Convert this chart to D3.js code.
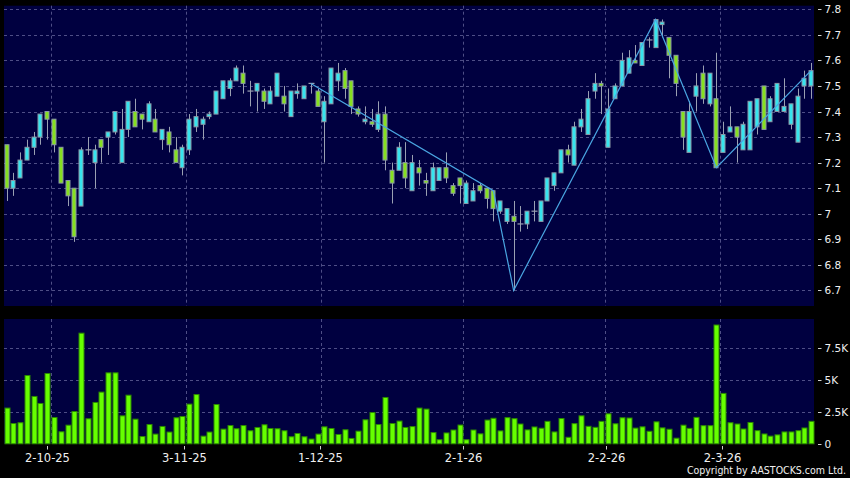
<!DOCTYPE html>
<html>
<head>
<meta charset="utf-8">
<script src="https://cdn.jsdelivr.net/npm/d3@7"></script>
<style>
	html, body { margin: 0; padding: 0; background: #000; }
	svg { display: block; }
	.lbl { fill: #f0f0f0; font-family: 'DejaVu Sans', sans-serif; }
</style>
</head>
<body>
<script>
// daily bars, oldest first
var opens = [
	7.27, 7.10, 7.14, 7.21, 7.26, 7.30, 7.40, 7.37, 7.26, 7.13,
	7.10, 7.03, 7.25, 7.20, 7.29, 7.30, 7.32, 7.20, 7.33, 7.40,
	7.39, 7.36, 7.37, 7.29, 7.32, 7.25, 7.18, 7.25, 7.34, 7.35,
	7.38, 7.39, 7.45, 7.49, 7.52, 7.55, 7.48, 7.48, 7.48, 7.43,
	7.46, 7.46, 7.38, 7.47, 7.45, 7.51, 7.48, 7.36, 7.43, 7.52,
	7.56, 7.52, 7.41, 7.36, 7.36, 7.33, 7.39, 7.17, 7.17, 7.20,
	7.09, 7.18, 7.13, 7.09, 7.13, 7.18, 7.11, 7.14, 7.04, 7.05,
	7.11, 7.10, 7.09, 7.01, 6.97, 6.99, 6.96, 6.96, 7.01, 6.97,
	7.05, 7.11, 7.16, 7.25, 7.19, 7.34, 7.31, 7.48, 7.51, 7.26,
	7.45, 7.50, 7.55, 7.60, 7.58, 7.68, 7.65, 7.74, 7.69, 7.62,
	7.40, 7.24, 7.46, 7.55, 7.43, 7.45, 7.24, 7.32, 7.34, 7.25,
	7.25, 7.34, 7.50, 7.36, 7.40, 7.40, 7.35, 7.28, 7.50, 7.50
];
var closes = [
	7.10, 7.13, 7.21, 7.26, 7.30, 7.39, 7.37, 7.27, 7.12, 7.07,
	6.91, 7.25, 7.25, 7.25, 7.26, 7.32, 7.40, 7.33, 7.44, 7.34,
	7.37, 7.43, 7.32, 7.33, 7.27, 7.20, 7.26, 7.37, 7.38, 7.37,
	7.39, 7.48, 7.52, 7.52, 7.57, 7.51, 7.48, 7.51, 7.44, 7.48,
	7.55, 7.43, 7.48, 7.48, 7.50, 7.51, 7.42, 7.44, 7.57, 7.55,
	7.49, 7.42, 7.39, 7.37, 7.35, 7.39, 7.21, 7.12, 7.26, 7.14,
	7.20, 7.16, 7.12, 7.18, 7.18, 7.14, 7.08, 7.11, 7.12, 7.09,
	7.09, 7.06, 7.02, 7.05, 7.02, 6.97, 6.96, 7.01, 7.01, 7.05,
	7.14, 7.16, 7.25, 7.23, 7.34, 7.37, 7.45, 7.51, 7.50, 7.41,
	7.50, 7.60, 7.61, 7.59, 7.67, 7.68, 7.76, 7.75, 7.62, 7.51,
	7.30, 7.40, 7.50, 7.45, 7.55, 7.18, 7.31, 7.34, 7.30, 7.35,
	7.44, 7.45, 7.33, 7.45, 7.51, 7.42, 7.43, 7.46, 7.53, 7.56
];
var highs = [
	7.27, 7.16, 7.24, 7.29, 7.32, 7.39, 7.40, 7.37, 7.26, 7.13,
	7.10, 7.26, 7.30, 7.27, 7.29, 7.32, 7.40, 7.41, 7.44, 7.45,
	7.39, 7.44, 7.41, 7.33, 7.34, 7.30, 7.27, 7.39, 7.41, 7.38,
	7.40, 7.48, 7.52, 7.53, 7.58, 7.58, 7.52, 7.51, 7.49, 7.50,
	7.55, 7.50, 7.48, 7.51, 7.50, 7.51, 7.49, 7.46, 7.57, 7.59,
	7.57, 7.52, 7.42, 7.42, 7.41, 7.44, 7.42, 7.20, 7.28, 7.28,
	7.23, 7.21, 7.16, 7.20, 7.18, 7.24, 7.12, 7.14, 7.13, 7.12,
	7.12, 7.10, 7.09, 7.05, 7.02, 7.05, 7.03, 7.01, 7.05, 7.05,
	7.14, 7.16, 7.25, 7.27, 7.36, 7.41, 7.48, 7.55, 7.52, 7.49,
	7.51, 7.63, 7.64, 7.66, 7.67, 7.69, 7.76, 7.76, 7.69, 7.62,
	7.40, 7.44, 7.55, 7.58, 7.55, 7.63, 7.36, 7.42, 7.34, 7.36,
	7.44, 7.45, 7.50, 7.46, 7.51, 7.53, 7.43, 7.49, 7.56, 7.59
];
var lows = [
	7.05, 7.07, 7.14, 7.21, 7.23, 7.27, 7.29, 7.24, 7.12, 7.03,
	6.89, 7.03, 7.23, 7.10, 7.20, 7.23, 7.31, 7.20, 7.30, 7.34,
	7.33, 7.36, 7.32, 7.25, 7.24, 7.20, 7.15, 7.23, 7.32, 7.29,
	7.37, 7.39, 7.45, 7.46, 7.52, 7.47, 7.42, 7.40, 7.41, 7.43,
	7.46, 7.40, 7.38, 7.45, 7.45, 7.47, 7.42, 7.20, 7.43, 7.48,
	7.45, 7.39, 7.38, 7.35, 7.34, 7.32, 7.17, 7.04, 7.17, 7.10,
	7.09, 7.11, 7.07, 7.09, 7.13, 7.12, 7.07, 7.04, 7.04, 7.05,
	7.08, 7.02, 6.97, 7.00, 6.96, 6.70, 6.93, 6.94, 6.97, 6.97,
	7.05, 7.09, 7.16, 7.20, 7.19, 7.32, 7.31, 7.45, 7.39, 7.26,
	7.45, 7.50, 7.55, 7.59, 7.58, 7.65, 7.65, 7.69, 7.53, 7.46,
	7.25, 7.24, 7.40, 7.43, 7.42, 7.18, 7.24, 7.32, 7.20, 7.25,
	7.25, 7.31, 7.33, 7.36, 7.40, 7.40, 7.33, 7.28, 7.45, 7.45
];
// volume, thousands of shares
var volumes = [
	2.80, 1.59, 1.65, 5.35, 3.71, 3.16, 5.51, 2.06, 0.94, 1.46,
	2.53, 8.67, 1.96, 3.24, 4.05, 5.56, 5.56, 2.19, 3.81, 1.93,
	0.57, 1.51, 0.76, 1.36, 0.92, 2.04, 2.14, 3.11, 3.86, 0.60,
	0.92, 3.08, 1.15, 1.43, 1.18, 1.43, 1.02, 1.28, 1.49, 1.20,
	1.18, 1.02, 0.55, 0.81, 0.55, 0.37, 0.76, 1.33, 1.20, 0.73,
	1.10, 0.42, 0.99, 1.88, 2.45, 1.51, 3.63, 1.59, 1.78, 1.28,
	1.35, 2.80, 2.72, 0.88, 0.32, 0.85, 1.08, 1.47, 0.32, 1.08,
	0.78, 1.86, 2.00, 1.01, 2.05, 1.97, 1.55, 1.09, 1.32, 1.22,
	1.76, 0.93, 1.98, 0.51, 1.58, 2.19, 1.37, 1.29, 1.76, 2.35,
	1.57, 2.04, 2.02, 1.23, 1.33, 0.98, 1.72, 1.25, 1.14, 0.44,
	1.46, 1.21, 2.07, 1.42, 1.42, 9.31, 3.95, 1.65, 1.55, 1.16,
	1.67, 1.03, 0.77, 0.60, 0.70, 0.93, 0.93, 1.03, 1.24, 1.76
];

// zigzag turning points (bar index, price)
var zigIndex = [ 45, 72, 75, 96, 105, 119 ];
var zigPrice = [ 7.51, 7.09, 6.70, 7.76, 7.18, 7.56 ];

// first trading day of each month
var monthIndex = [ 7, 27, 47, 68, 89, 106 ];
var monthLabels = [ '2-10-25', '3-11-25', '1-12-25', '2-1-26', '2-2-26', '2-3-26' ];

var priceTicks = [ 6.7, 6.8, 6.9, 7, 7.1, 7.2, 7.3, 7.4, 7.5, 7.6, 7.7, 7.8 ];
var volumeTicks = [ 0, 2.5, 5, 7.5 ];
var volumeTickLabels = [ '0', '2.5K', '5K', '7.5K' ];

var width = 850;
var height = 478;

var panels = {
	left: 4,
	right: 814,
	priceTop: 5.7,
	priceBottom: 306,
	volTop: 319,
	volBottom: 443.8
};

var colors = {
	panel: '#000040',
	grid: '#4e4e86',
	up: '#36e4ee',
	down: '#86e020',
	outline: '#8a97a6',
	wick: '#9aa0b2',
	vol: '#66ff00',
	volEdge: '#2c8a00',
	zig: '#4aa6e2'
};

var els = {};

els.svg = d3.select( 'body' ).append( 'svg' )
	.attr( 'width', width )
	.attr( 'height', height );

var scales = {};

scales.x = d3.scaleBand()
	.domain( d3.range( opens.length ) )
	.range( [ 3.3, 814.4 ] );

// the date labels sit on a slightly wider spacing than the bars
scales.label = d3.scaleLinear()
	.domain( [ 0, opens.length ] )
	.range( [ -0.4, 817.0 ] );

scales.price = d3.scaleLinear()
	.domain( [ 6.639, 7.814 ] )
	.range( [ panels.priceBottom, panels.priceTop ] );

scales.vol = d3.scaleLinear()
	.domain( [ 0, 9.78 ] )
	.range( [ panels.volBottom, panels.volTop ] );

var bw = scales.x.bandwidth();
var cx = function ( i ) { return scales.x( i ) + bw / 2; };

// panel backgrounds
[ [ panels.priceTop, panels.priceBottom ], [ panels.volTop, panels.volBottom ] ].forEach( function ( p ) {
	els.svg.append( 'rect' )
		.attr( 'x', panels.left )
		.attr( 'y', p[0] )
		.attr( 'width', panels.right - panels.left )
		.attr( 'height', p[1] - p[0] )
		.attr( 'fill', colors.panel );
} );

// grid
els.grid = els.svg.append( 'g' )
	.attr( 'stroke', colors.grid )
	.attr( 'stroke-width', 1 )
	.attr( 'stroke-dasharray', '3,3' );

els.grid.selectAll( '.hp' )
	.data( priceTicks )
	.enter().append( 'line' )
	.attr( 'x1', panels.left ).attr( 'x2', panels.right )
	.attr( 'y1', function ( d ) { return Math.round( scales.price( d ) ) + 0.5; } )
	.attr( 'y2', function ( d ) { return Math.round( scales.price( d ) ) + 0.5; } );

els.grid.selectAll( '.hv' )
	.data( volumeTicks.slice( 1 ) )
	.enter().append( 'line' )
	.attr( 'x1', panels.left ).attr( 'x2', panels.right )
	.attr( 'y1', function ( d ) { return Math.round( scales.vol( d ) ) + 0.5; } )
	.attr( 'y2', function ( d ) { return Math.round( scales.vol( d ) ) + 0.5; } );

[ [ panels.priceTop, panels.priceBottom ], [ panels.volTop, panels.volBottom ] ].forEach( function ( p ) {
	els.grid.selectAll( null )
		.data( monthIndex )
		.enter().append( 'line' )
		.attr( 'x1', function ( d ) { return Math.round( scales.x( d ) ) + 0.5; } )
		.attr( 'x2', function ( d ) { return Math.round( scales.x( d ) ) + 0.5; } )
		.attr( 'y1', p[0] ).attr( 'y2', p[1] );
} );

// candles
var candles = d3.range( opens.length ).map( function ( i ) {
	return { i: i, o: opens[i], c: closes[i], h: highs[i], l: lows[i] };
} );

els.candles = els.svg.append( 'g' );

els.candles.selectAll( '.wick' )
	.data( candles )
	.enter().append( 'line' )
	.attr( 'x1', function ( d ) { return Math.round( cx( d.i ) ) + 0.5; } )
	.attr( 'x2', function ( d ) { return Math.round( cx( d.i ) ) + 0.5; } )
	.attr( 'y1', function ( d ) { return scales.price( d.h ); } )
	.attr( 'y2', function ( d ) { return scales.price( d.l ); } )
	.attr( 'stroke', colors.wick )
	.attr( 'stroke-width', 1 );

var bodyW = 5;

els.candles.selectAll( '.body' )
	.data( candles.filter( function ( d ) { return d.o !== d.c; } ) )
	.enter().append( 'rect' )
	.attr( 'x', function ( d ) { return Math.round( cx( d.i ) ) - 2; } )
	.attr( 'y', function ( d ) { return scales.price( Math.max( d.o, d.c ) ); } )
	.attr( 'width', bodyW - 1 )
	.attr( 'height', function ( d ) {
		return Math.max( 1.5, scales.price( Math.min( d.o, d.c ) ) - scales.price( Math.max( d.o, d.c ) ) );
	} )
	.attr( 'fill', function ( d ) { return d.c > d.o ? colors.up : colors.down; } )
	.attr( 'stroke', colors.outline )
	.attr( 'stroke-width', 1 );

// dojis: a flat tick
els.candles.selectAll( '.doji' )
	.data( candles.filter( function ( d ) { return d.o === d.c; } ) )
	.enter().append( 'line' )
	.attr( 'x1', function ( d ) { return Math.round( cx( d.i ) ) - 2.5; } )
	.attr( 'x2', function ( d ) { return Math.round( cx( d.i ) ) + 3.5; } )
	.attr( 'y1', function ( d ) { return scales.price( d.o ); } )
	.attr( 'y2', function ( d ) { return scales.price( d.o ); } )
	.attr( 'stroke', colors.wick )
	.attr( 'stroke-width', 1.2 );

// zigzag
var zig = zigIndex.map( function ( d, k ) { return { i: d, p: zigPrice[k] }; } );

els.svg.append( 'path' )
	.datum( zig )
	.attr( 'd', d3.line()
		.x( function ( d ) { return cx( d.i ); } )
		.y( function ( d ) { return scales.price( d.p ); } ) )
	.attr( 'fill', 'none' )
	.attr( 'stroke', colors.zig )
	.attr( 'stroke-width', 1.2 );

// volume
els.svg.append( 'g' ).selectAll( 'rect' )
	.data( volumes )
	.enter().append( 'rect' )
	.attr( 'x', function ( d, i ) { return Math.round( cx( i ) ) - 2; } )
	.attr( 'y', function ( d ) { return scales.vol( d ); } )
	.attr( 'width', 5 )
	.attr( 'height', function ( d ) { return scales.vol( 0 ) - scales.vol( d ); } )
	.attr( 'fill', colors.vol )
	.attr( 'stroke', colors.volEdge )
	.attr( 'stroke-width', 1 );

// right axes
var yAxis = function ( ticks, scale, labels ) {
	var g = els.svg.append( 'g' );
	ticks.forEach( function ( t, k ) {
		var y = Math.round( scale( t ) ) + 0.5;
		g.append( 'line' )
			.attr( 'x1', 818 ).attr( 'x2', 821.5 )
			.attr( 'y1', y ).attr( 'y2', y )
			.attr( 'stroke', '#cfcfcf' );
		g.append( 'text' )
			.classed( 'lbl', true )
			.attr( 'x', 824.5 )
			.attr( 'y', y )
			.attr( 'dy', '0.36em' )
			.style( 'font-size', '10.5px' )
			.text( labels[k] );
	} );
};

yAxis( priceTicks, scales.price, priceTicks.map( function ( d ) { return String( +d.toFixed( 1 ) ); } ) );
yAxis( volumeTicks, scales.vol, volumeTickLabels );

// date axis
els.xAxis = els.svg.append( 'g' );

monthIndex.forEach( function ( d, k ) {
	var x = Math.round( scales.label( d ) ) + 0.5;
	els.xAxis.append( 'line' )
		.attr( 'x1', x ).attr( 'x2', x )
		.attr( 'y1', 446 ).attr( 'y2', 449.5 )
		.attr( 'stroke', '#cfcfcf' );
	els.xAxis.append( 'text' )
		.classed( 'lbl', true )
		.attr( 'x', x )
		.attr( 'y', 462 )
		.attr( 'text-anchor', 'middle' )
		.style( 'font-size', '11.5px' )
		.text( monthLabels[k] );
} );

els.svg.append( 'text' )
	.classed( 'lbl', true )
	.attr( 'x', 846 )
	.attr( 'y', 474 )
	.attr( 'text-anchor', 'end' )
	.style( 'font-family', "'DejaVu Sans Condensed', 'DejaVu Sans', sans-serif" )
	.style( 'font-size', '10.5px' )
	.text( 'Copyright by AASTOCKS.com Ltd.' );
</script>
</body>
</html>
